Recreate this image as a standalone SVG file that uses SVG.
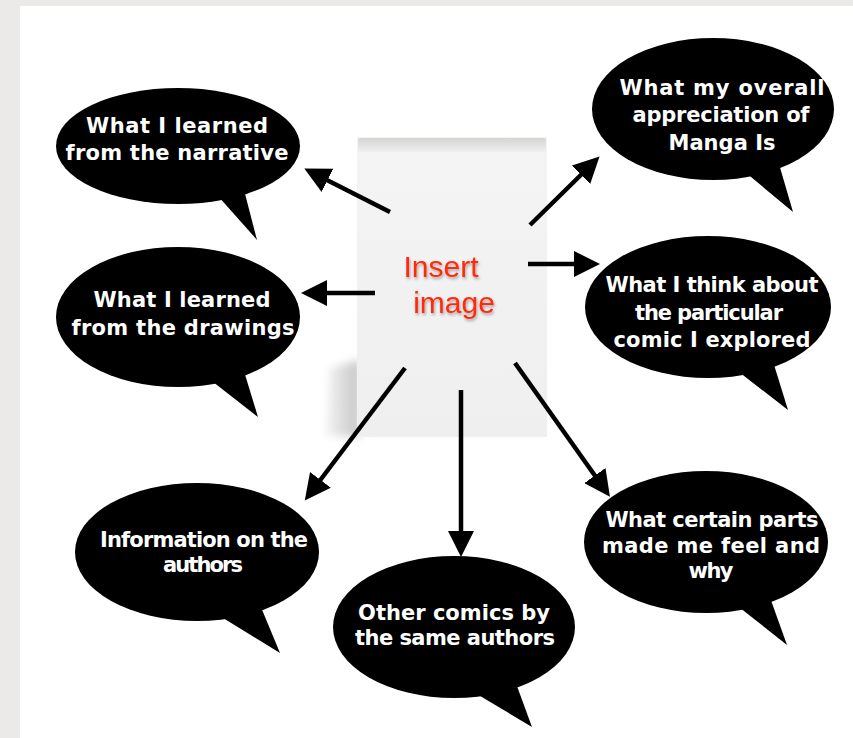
<svg xmlns="http://www.w3.org/2000/svg" width="853" height="738" viewBox="0 0 853 738">
<defs>
<style>
.bub{fill:#000}
.bt{font-family:"DejaVu Sans","Lato",sans-serif;font-weight:bold;font-size:21px;fill:#fff;text-anchor:middle}
.arr{stroke:#000;stroke-width:4.5;fill:none;marker-end:url(#ah)}
.ins{font-family:"Liberation Sans",Arial,sans-serif;font-size:30px;fill:#ff2a0a;text-anchor:middle}
</style>
<marker id="ah" markerUnits="userSpaceOnUse" markerWidth="28" markerHeight="26" viewBox="0 0 28 26" refX="14" refY="13" orient="auto">
<path d="M0,0 L26,13 L0,26 z" fill="#000"/>
</marker>
<linearGradient id="shadowG" x1="1" y1="0" x2="0" y2="0">
<stop offset="0" stop-color="#c4c4c4"/>
<stop offset="1" stop-color="#f4f4f4"/>
</linearGradient>
<linearGradient id="topG" x1="0" y1="0" x2="0" y2="1">
<stop offset="0" stop-color="#d5d5d3"/>
<stop offset="1" stop-color="#efefef"/>
</linearGradient>
<linearGradient id="cardG" x1="0" y1="0" x2="0" y2="1">
<stop offset="0" stop-color="#f4f4f4"/>
<stop offset="1" stop-color="#efefef"/>
</linearGradient>
<filter id="blur" x="-30%" y="-30%" width="160%" height="160%">
<feGaussianBlur stdDeviation="4"/>
</filter>
<filter id="tsh" x="-20%" y="-20%" width="140%" height="140%">
<feDropShadow dx="1" dy="2" stdDeviation="1.5" flood-color="#000" flood-opacity="0.35"/>
</filter>
</defs>
<rect x="0" y="0" width="853" height="738" fill="#ebeae8"/>
<rect x="20" y="6" width="833" height="732" fill="#ffffff"/>

<g id="center-image">
<path d="M360,360 L330,368 L326,436 L360,437 z" fill="url(#shadowG)" filter="url(#blur)"/>
<rect x="357" y="137" width="190" height="300" fill="url(#cardG)"/>
<rect x="358" y="138" width="188" height="14" rx="2" fill="url(#topG)"/>
<text class="ins" x="441" y="277" filter="url(#tsh)">Insert</text>
<text class="ins" x="454" y="313" filter="url(#tsh)">image</text>
</g>

<g id="connectors">
<line class="arr" x1="390" y1="212" x2="315" y2="174"/>
<line class="arr" x1="375" y1="293" x2="313" y2="293"/>
<line class="arr" x1="530" y1="225" x2="591" y2="165"/>
<line class="arr" x1="528" y1="264" x2="588" y2="264"/>
<line class="arr" x1="405" y1="368" x2="312" y2="491"/>
<line class="arr" x1="461" y1="390" x2="461" y2="545"/>
<line class="arr" x1="515" y1="363" x2="603" y2="487"/>
</g>

<g id="bubble-narrative">
<ellipse class="bub" cx="178" cy="146" rx="122" ry="58"/>
<polygon class="bub" points="218,196 243,186 257,240"/>
<text class="bt" x="177" y="133" textLength="182">What I learned</text>
<text class="bt" x="177" y="160" textLength="223">from the narrative</text>
</g>

<g id="bubble-manga">
<ellipse class="bub" cx="713" cy="109" rx="121" ry="71"/>
<polygon class="bub" points="745,172 779,164 793,212"/>
<text class="bt" x="722" y="95" textLength="205">What my overall</text>
<text class="bt" x="721" y="122" textLength="177">appreciation of</text>
<text class="bt" x="722" y="150" textLength="107">Manga Is</text>
</g>

<g id="bubble-drawings">
<ellipse class="bub" cx="178" cy="317" rx="122" ry="70"/>
<polygon class="bub" points="208,378 243,368 258,417"/>
<text class="bt" x="182" y="307" textLength="177">What I learned</text>
<text class="bt" x="183" y="335" textLength="223">from the drawings</text>
</g>

<g id="bubble-comic">
<ellipse class="bub" cx="708" cy="307" rx="123" ry="71"/>
<polygon class="bub" points="730,365 771,355 788,410"/>
<text class="bt" x="712" y="292" textLength="213">What I think about</text>
<text class="bt" x="709" y="320" textLength="148">the particular</text>
<text class="bt" x="712" y="347" textLength="197">comic I explored</text>
</g>

<g id="bubble-authors">
<ellipse class="bub" cx="197" cy="552" rx="122" ry="69"/>
<polygon class="bub" points="210,610 258,600 280,653"/>
<text class="bt" x="204" y="547" textLength="208">Information on the</text>
<text class="bt" x="203" y="572" textLength="80">authors</text>
</g>

<g id="bubble-other-comics">
<ellipse class="bub" cx="454" cy="627" rx="121" ry="71"/>
<polygon class="bub" points="470,690 514,678 532,727"/>
<text class="bt" x="454" y="620" textLength="192">Other comics by</text>
<text class="bt" x="455" y="645" textLength="200">the same authors</text>
</g>

<g id="bubble-feel">
<ellipse class="bub" cx="706" cy="542" rx="122" ry="71"/>
<polygon class="bub" points="730,600 768,592 787,645"/>
<text class="bt" x="712" y="527" textLength="213">What certain parts</text>
<text class="bt" x="711" y="553" textLength="218">made me feel and</text>
<text class="bt" x="711" y="578" textLength="45">why</text>
</g>
</svg>
